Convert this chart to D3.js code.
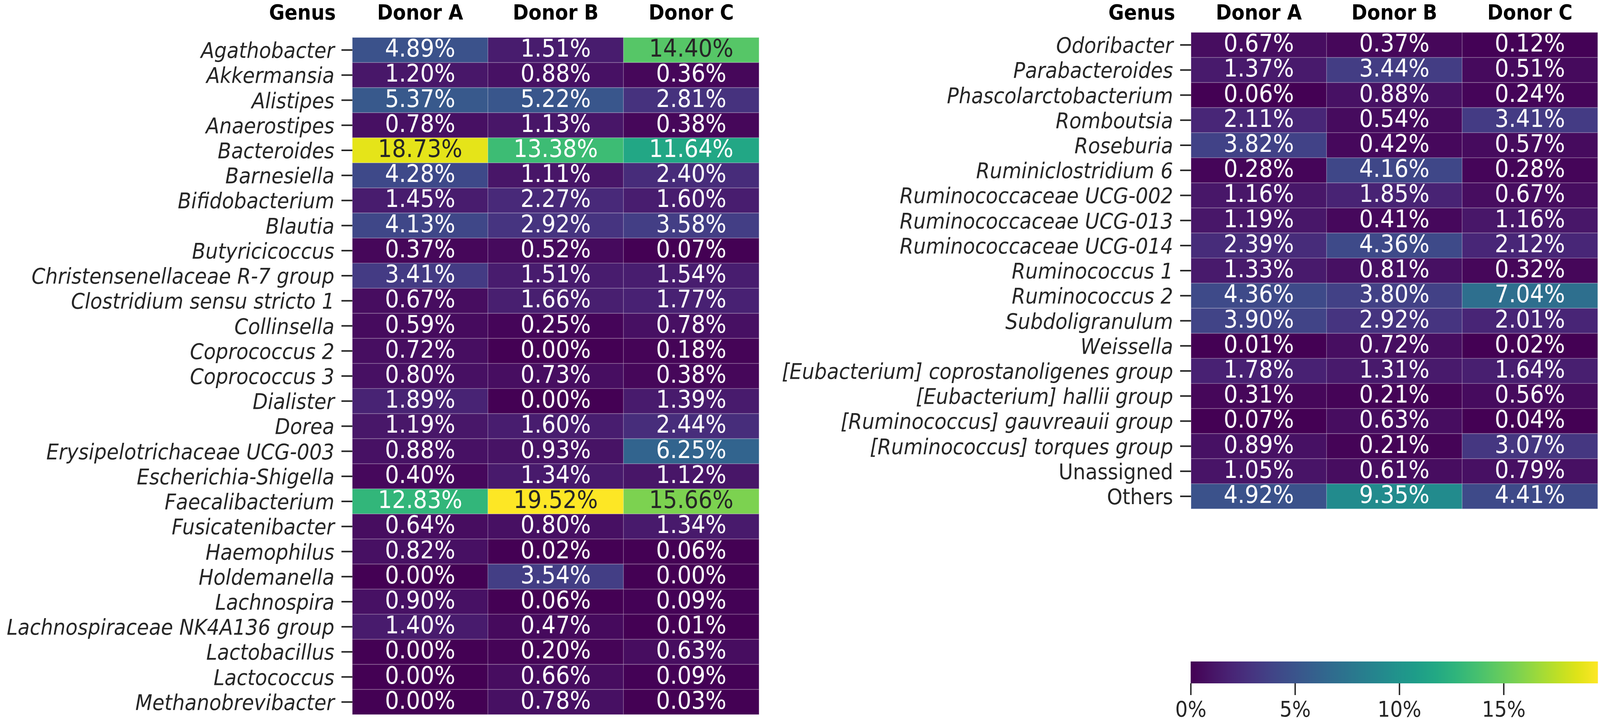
<!DOCTYPE html>
<meta charset="utf-8">
<head>
    <title>Genus abundance heatmap</title>
    <style>
        html, body { margin: 0; padding: 0; width: 100%; height: 100%; overflow: hidden; background: #fff; }
        #chart { display: block; width: 100vw; height: 100vh; }
        text { font-family: "DejaVu Sans", sans-serif; }
        .header { font-weight: bold; fill: #000; }
        .axis .domain { display: none; }
        .axis line { stroke: #262626; }
    </style>
</head>
<script src="https://d3js.org/d3.v7.min.js"></script>
<svg id="chart" viewBox="0 0 4550 1849" preserveAspectRatio="none"></svg>

<script>
    // Columns
    const donors = ["Donor A", "Donor B", "Donor C"];

    // Left panel
    const genusLeft = ["Agathobacter", "Akkermansia", "Alistipes", "Anaerostipes", "Bacteroides",
        "Barnesiella", "Bifidobacterium", "Blautia", "Butyricicoccus", "Christensenellaceae R-7 group",
        "Clostridium sensu stricto 1", "Collinsella", "Coprococcus 2", "Coprococcus 3", "Dialister",
        "Dorea", "Erysipelotrichaceae UCG-003", "Escherichia-Shigella", "Faecalibacterium",
        "Fusicatenibacter", "Haemophilus", "Holdemanella", "Lachnospira", "Lachnospiraceae NK4A136 group",
        "Lactobacillus", "Lactococcus", "Methanobrevibacter"];
    const donorALeft = [4.89, 1.20, 5.37, 0.78, 18.73, 4.28, 1.45, 4.13, 0.37, 3.41, 0.67, 0.59, 0.72, 0.80,
        1.89, 1.19, 0.88, 0.40, 12.83, 0.64, 0.82, 0.00, 0.90, 1.40, 0.00, 0.00, 0.00];
    const donorBLeft = [1.51, 0.88, 5.22, 1.13, 13.38, 1.11, 2.27, 2.92, 0.52, 1.51, 1.66, 0.25, 0.00, 0.73,
        0.00, 1.60, 0.93, 1.34, 19.52, 0.80, 0.02, 3.54, 0.06, 0.47, 0.20, 0.66, 0.78];
    const donorCLeft = [14.40, 0.36, 2.81, 0.38, 11.64, 2.40, 1.60, 3.58, 0.07, 1.54, 1.77, 0.78, 0.18, 0.38,
        1.39, 2.44, 6.25, 1.12, 15.66, 1.34, 0.06, 0.00, 0.09, 0.01, 0.63, 0.09, 0.03];

    // Right panel
    const genusRight = ["Odoribacter", "Parabacteroides", "Phascolarctobacterium", "Romboutsia", "Roseburia",
        "Ruminiclostridium 6", "Ruminococcaceae UCG-002", "Ruminococcaceae UCG-013", "Ruminococcaceae UCG-014",
        "Ruminococcus 1", "Ruminococcus 2", "Subdoligranulum", "Weissella",
        "[Eubacterium] coprostanoligenes group", "[Eubacterium] hallii group",
        "[Ruminococcus] gauvreauii group", "[Ruminococcus] torques group", "Unassigned", "Others"];
    const donorARight = [0.67, 1.37, 0.06, 2.11, 3.82, 0.28, 1.16, 1.19, 2.39, 1.33, 4.36, 3.90, 0.01,
        1.78, 0.31, 0.07, 0.89, 1.05, 4.92];
    const donorBRight = [0.37, 3.44, 0.88, 0.54, 0.42, 4.16, 1.85, 0.41, 4.36, 0.81, 3.80, 2.92, 0.72,
        1.31, 0.21, 0.63, 0.21, 0.61, 9.35];
    const donorCRight = [0.12, 0.51, 0.24, 3.41, 0.57, 0.28, 0.67, 1.16, 2.12, 0.32, 7.04, 2.01, 0.02,
        1.64, 0.56, 0.04, 3.07, 0.79, 4.41];

    // colour bar ticks (percent)
    var colorbarTicks = [0, 5, 10, 15];
    var plainNames = ["Unassigned", "Others"];

    const svg = d3.select("#chart");

    const allValues = [].concat(donorALeft, donorBLeft, donorCLeft, donorARight, donorBRight, donorCRight);
    const vmax = d3.max(allValues);
    const color = d3.scaleSequential(d3.interpolateViridis).domain([0, vmax]);

    // seaborn-like choice of annotation colour
    function lum(c) {
        const rgb = d3.rgb(c);
        const lin = [rgb.r, rgb.g, rgb.b].map(function(v) {
            v = v / 255;
            return v <= 0.03928 ? v / 12.92 : Math.pow((v + 0.055) / 1.055, 2.4);
        });
        return 0.2126 * lin[0] + 0.7152 * lin[1] + 0.0722 * lin[2];
    }

    function drawPanel(genus, cols, x0, y0, headerRight) {
        const colW = 385.5, rowH = 64.22;
        const x = d3.scaleBand().domain(donors).range([x0, x0 + colW * donors.length]);
        const y = d3.scaleBand().domain(genus).range([y0, y0 + rowH * genus.length]);

        const cells = [];
        genus.forEach(function(g, i) {
            donors.forEach(function(d, j) {
                cells.push({ genus: g, donor: d, value: cols[j][i] });
            });
        });

        const g = svg.append("g");

        g.selectAll("rect")
            .data(cells)
            .join("rect")
            .attr("x", d => x(d.donor))
            .attr("y", d => y(d.genus))
            .attr("width", x.bandwidth())
            .attr("height", y.bandwidth())
            .attr("fill", d => color(d.value))
            .attr("stroke", "rgba(255,255,255,0.22)")
            .attr("stroke-width", 2);

        g.selectAll("text.annot")
            .data(cells)
            .join("text")
            .attr("class", "annot")
            .attr("x", d => x(d.donor) + x.bandwidth() / 2)
            .attr("y", d => y(d.genus) + y.bandwidth() / 2 + 17)
            .attr("text-anchor", "middle")
            .style("font-size", "63px")
            .style("fill", d => lum(color(d.value)) > 0.408 ? "#262626" : "#ffffff")
            .text(d => d.value.toFixed(2) + "%");

        // genus axis
        const axis = svg.append("g")
            .attr("class", "axis")
            .attr("transform", "translate(" + x0 + ",0)")
            .call(d3.axisLeft(y).tickSize(31).tickPadding(20));
        axis.selectAll(".tick line").attr("stroke-width", 4);
        axis.selectAll(".tick text")
            .attr("dy", 20)
            .style("font-size", "56px")
            .style("fill", "#262626")
            .style("font-style", d => plainNames.indexOf(d) >= 0 ? "normal" : "italic");

        // headers
        svg.append("text")
            .attr("class", "header")
            .attr("x", headerRight)
            .attr("y", 50)
            .attr("text-anchor", "end")
            .style("font-size", "54px")
            .text("Genus");
        svg.append("g").selectAll("text")
            .data(donors)
            .join("text")
            .attr("class", "header")
            .attr("x", d => x(d) + x.bandwidth() / 2)
            .attr("y", 50)
            .attr("text-anchor", "middle")
            .style("font-size", "54px")
            .text(d => d);
    }

    drawPanel(genusLeft, [donorALeft, donorBLeft, donorCLeft], 1002, 96, 955);
    drawPanel(genusRight, [donorARight, donorBRight, donorCRight], 3387, 83, 3342);

    // colour bar
    const cbX0 = 3386, cbX1 = 4544, cbY = 1694, cbH = 56;
    const cb = d3.scaleLinear().domain([0, vmax]).range([cbX0, cbX1]);

    const grad = svg.append("defs").append("linearGradient")
        .attr("id", "viridis")
        .attr("x1", "0%").attr("x2", "100%")
        .attr("y1", "0%").attr("y2", "0%");
    grad.selectAll("stop")
        .data(d3.range(0, 1.0001, 0.05))
        .join("stop")
        .attr("offset", d => (d * 100) + "%")
        .attr("stop-color", d => d3.interpolateViridis(d));

    svg.append("rect")
        .attr("x", cbX0)
        .attr("y", cbY)
        .attr("width", cbX1 - cbX0)
        .attr("height", cbH)
        .attr("fill", "url(#viridis)");

    const cbAxis = svg.append("g")
        .attr("class", "axis")
        .attr("transform", "translate(0," + (cbY + cbH) + ")")
        .call(d3.axisBottom(cb).tickValues(colorbarTicks).tickFormat(d => d + "%").tickSize(30).tickPadding(15));
    cbAxis.selectAll(".tick line").attr("stroke-width", 4);
    cbAxis.selectAll(".tick text")
        .style("font-size", "56px")
        .style("fill", "#262626");
</script>
